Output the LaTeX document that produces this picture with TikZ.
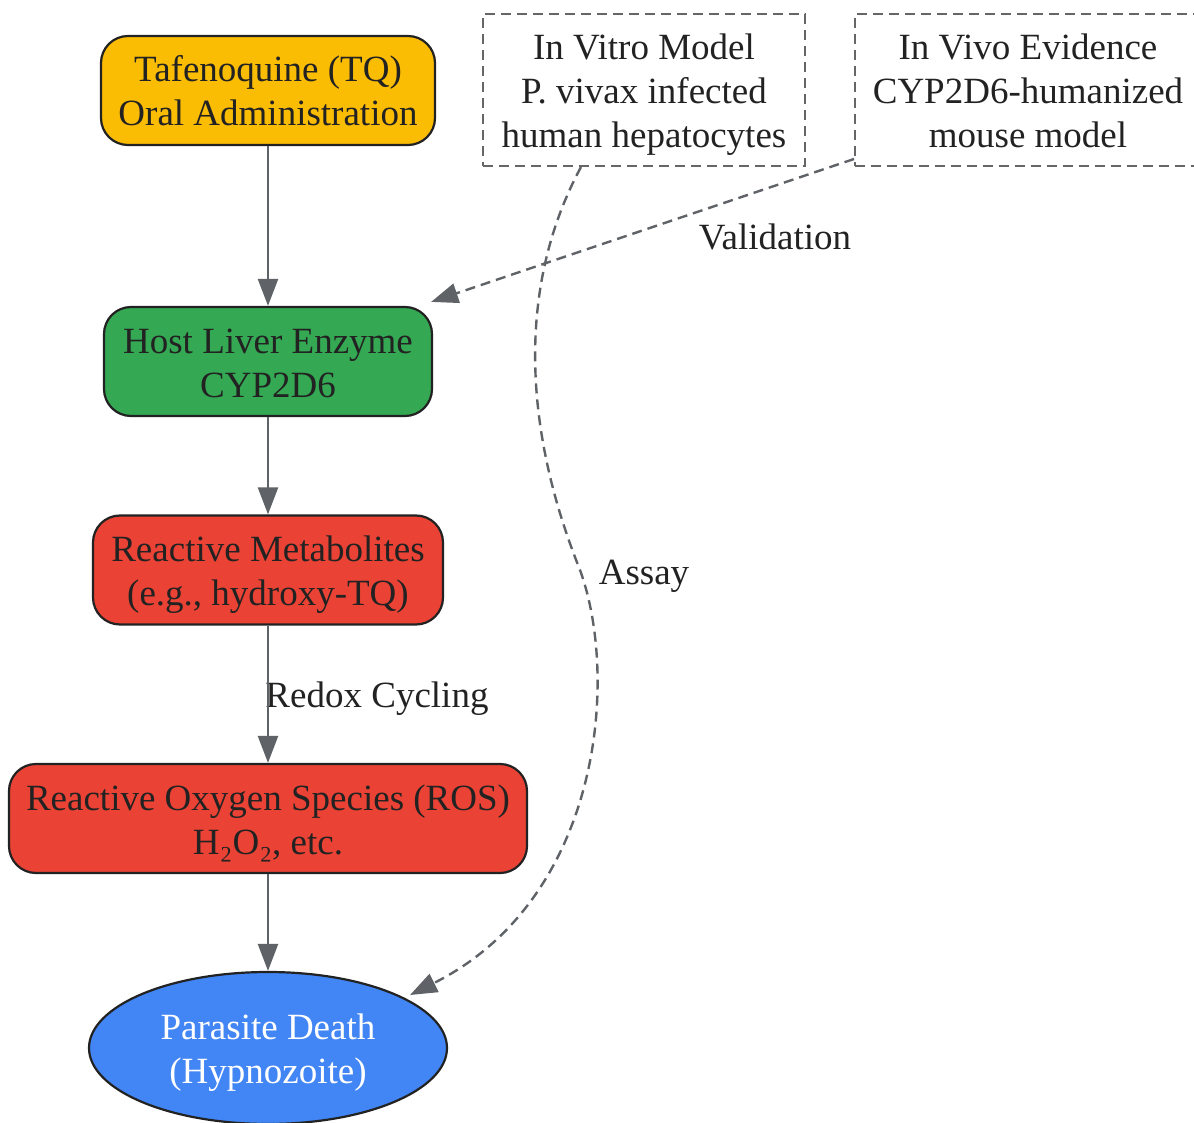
\documentclass[tikz,border=0pt]{standalone}
\usepackage{fontspec}
\setmainfont{Liberation Serif}
\usetikzlibrary{arrows.meta,calc,shapes.geometric}
\definecolor{txt}{HTML}{222222}
\definecolor{edgegray}{HTML}{5F6368}
\definecolor{boxgray}{HTML}{666666}
\definecolor{cyellow}{HTML}{FBBC04}
\definecolor{cgreen}{HTML}{34A853}
\definecolor{cred}{HTML}{EA4335}
\definecolor{cblue}{HTML}{4285F4}
\newcommand\lnstrut{\rule[-8.5pt]{0pt}{44pt}}
\tikzset{
  base/.style={align=center, inner sep=0pt, text=txt, font=\fontsize{37}{44}\selectfont},
  proc/.style={base, draw=txt, line width=2.2pt, rounded corners=27pt, minimum height=109pt},
  evid/.style={base, draw=boxgray, line width=2pt, dash pattern=on 10pt off 6pt, minimum height=152pt},
  lbl/.style={align=center, inner sep=0pt, text=txt, font=\fontsize{37}{44}\selectfont},
  flow/.style={draw=edgegray, line width=2.4pt, -{Triangle[length=27pt,width=20pt]}},
  dflow/.style={flow, dash pattern=on 10pt off 6pt},
}
\begin{document}
\begin{tikzpicture}[x=1pt,y=-1pt]
\useasboundingbox (0,0) rectangle (1194,1123);
\clip (0,0) rectangle (1194,1123);

\node[proc, fill=cyellow, minimum width=334pt] (tq) at (268,90.5) {\lnstrut Tafenoquine (TQ)\\\lnstrut Oral Administration};
\node[proc, fill=cgreen, minimum width=328pt] (host) at (268,361.5) {\lnstrut Host Liver Enzyme\\\lnstrut CYP2D6};
\node[proc, fill=cred, minimum width=350pt] (met) at (268,570) {\lnstrut Reactive Metabolites\\\lnstrut (e.g., hydroxy-TQ)};
\node[proc, fill=cred, minimum width=518pt] (ros) at (268,818.5) {\lnstrut Reactive Oxygen Species (ROS)\\\lnstrut H₂O₂, etc.};
\node[base, ellipse, draw=txt, line width=2.2pt, fill=cblue, text=white, minimum width=358pt, minimum height=152pt] (par) at (268,1048) {\lnstrut Parasite Death\\\lnstrut (Hypnozoite)};

\node[evid, minimum width=322pt] (vitro) at (644,90) {\lnstrut In Vitro Model\\\lnstrut P. vivax infected\\\lnstrut human hepatocytes};
\node[evid, minimum width=346pt] (vivo) at (1028,90) {\lnstrut In Vivo Evidence\\\lnstrut CYP2D6-humanized\\\lnstrut mouse model};

\node[lbl] (lredox) at (377,693.5) {\lnstrut Redox Cycling};
\node[lbl] (lval) at (775,236.5) {\lnstrut Validation};
\node[lbl] (lassay) at (644,570.5) {\lnstrut Assay};

\draw[flow] (tq.south) -- (host.north);
\draw[flow] (host.south) -- (met.north);
\draw[flow] (met.south) -- (ros.north);
\draw[flow] (ros.south) -- (par.north);

\coordinate (vivoout) at ($(vivo.south west)+(0,-8)$);
\coordinate (hostin) at ($(host.north east)+(-2,-4)$);
\draw[dflow] (vivoout) -- (hostin);

\coordinate (vitroout) at ($(vitro.south west)+(99,0)$);
\coordinate (par-in) at (410,995);
\draw[dflow] (vitroout) .. controls (520,280) and (520,420) .. (580,570)
  .. controls (620,680) and (600,900) .. (par-in);
\end{tikzpicture}
\end{document}
